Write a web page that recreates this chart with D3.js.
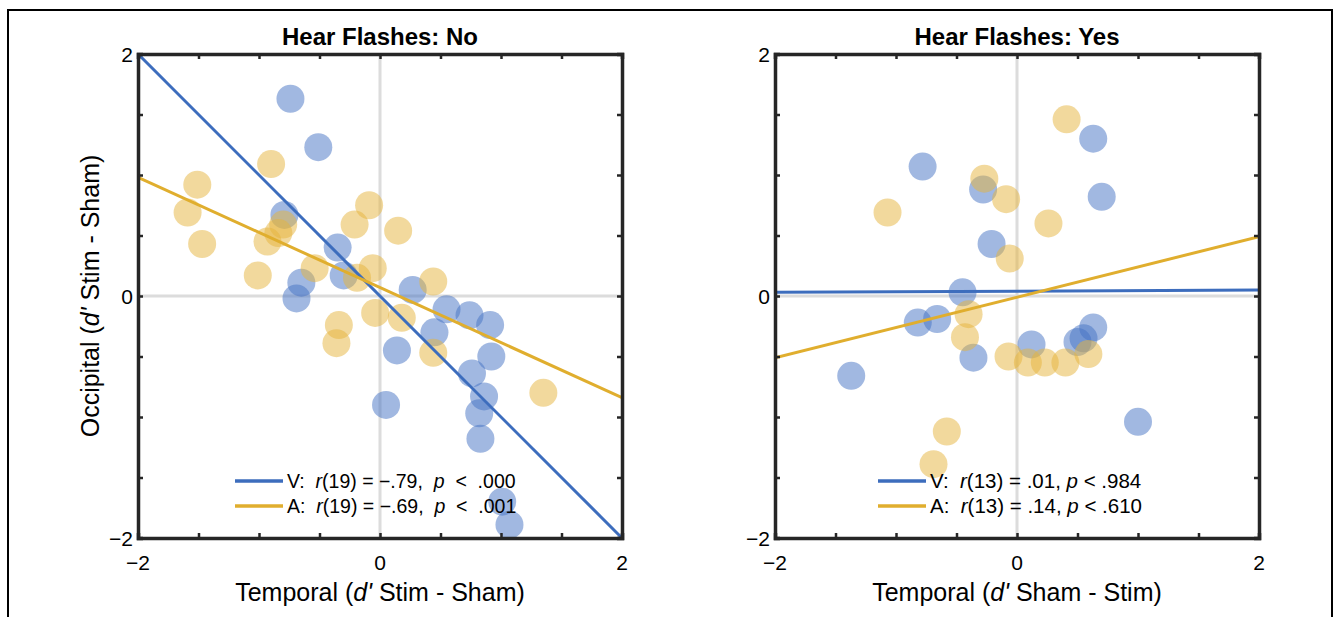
<!DOCTYPE html>
<html>
<head>
<meta charset="utf-8">
<title>Hear Flashes</title>
<script src="https://d3js.org/d3.v7.min.js"></script>
<style>
  body { margin: 0; background: #fff; }
  text { font-family: "Liberation Sans", Arial, Helvetica, sans-serif; fill: #000; }
</style>
</head>
<body>
<div id="chart"></div>
<script>
// ---- data ----
var titles = ["Hear Flashes: No", "Hear Flashes: Yes"];
var xLabels = ["Stim - Sham", "Sham - Stim"];
var tickValues = [-2, 0, 2];

// panel 1 (Hear Flashes: No)
var noVx = [-0.74, -0.51, -0.79, -0.35, -0.65, -0.69, -0.30, 0.27, 0.55, 0.74, 0.91, 0.45, 0.14, 0.92, 0.76, 0.86, 0.82, 0.83, 0.05, 1.01, 1.07];
var noVy = [1.63, 1.23, 0.67, 0.40, 0.11, -0.02, 0.17, 0.05, -0.11, -0.16, -0.24, -0.30, -0.45, -0.50, -0.64, -0.83, -0.97, -1.18, -0.90, -1.70, -1.89];
var noAx = [-1.51, -1.59, -1.47, -0.90, -0.80, -0.93, -1.01, -0.54, -0.21, -0.09, 0.15, -0.06, -0.19, 0.44, -0.04, 0.18, -0.34, -0.36, 0.44, 1.35, -0.84];
var noAy = [0.92, 0.69, 0.43, 1.09, 0.59, 0.45, 0.17, 0.23, 0.59, 0.75, 0.54, 0.23, 0.15, 0.12, -0.14, -0.18, -0.24, -0.39, -0.47, -0.80, 0.52];

// panel 2 (Hear Flashes: Yes)
var yesVx = [-0.78, -0.28, -0.21, 0.63, 0.70, -0.45, -0.82, -0.66, -0.36, -1.37, 0.12, 0.50, 0.63, 1.00, 0.55];
var yesVy = [1.07, 0.88, 0.43, 1.30, 0.82, 0.03, -0.22, -0.19, -0.51, -0.66, -0.40, -0.38, -0.26, -1.04, -0.35];
var yesAx = [0.41, -0.27, -0.09, -1.07, 0.26, -0.06, -0.40, -0.43, -0.07, 0.09, 0.23, 0.40, 0.59, -0.58, -0.69];
var yesAy = [1.46, 0.97, 0.80, 0.69, 0.60, 0.31, -0.15, -0.34, -0.50, -0.55, -0.55, -0.55, -0.48, -1.12, -1.39];

// fitted lines: [slope, intercept]
var noFitV = [-1.0, 0.0];
var noFitA = [-0.455, 0.07];
var yesFitV = [0.005, 0.04];
var yesFitA = [0.25, -0.01];

// legend entries
var noLegend = [["V", "19", "\u2212.79", ".000"], ["A", "19", "\u2212.69", ".001"]];
var yesLegend = [["V", "13", ".01", ".984"], ["A", "13", ".14", ".610"]];

(function () {
  var blue = "#3d6dbd", gold = "#e0ae2e";
  var blueDot = "#4472c4", goldDot = "#e5b43c";

  var W = 1335, H = 617;
  var svg = d3.select("#chart").append("svg").attr("width", W).attr("height", H);

  // outer frame
  svg.append("rect").attr("x", 8).attr("y", 10).attr("width", 1324).attr("height", 640)
    .attr("fill", "none").attr("stroke", "#000").attr("stroke-width", 2);

  function zip(xs, ys) { return xs.map(function (d, i) { return [d, ys[i]]; }); }

  var panels = [
    { left: 138, title: titles[0], xl: xLabels[0], V: zip(noVx, noVy), A: zip(noAx, noAy), fitV: noFitV, fitA: noFitA, leg: noLegend, legX: 97, legFont: 19.5, yLabel: true },
    { left: 775, title: titles[1], xl: xLabels[1], V: zip(yesVx, yesVy), A: zip(yesAx, yesAy), fitV: yesFitV, fitA: yesFitA, leg: yesLegend, legX: 103, legFont: 20.5, yLabel: false }
  ];

  var size = 484, plotTop = 54;

  panels.forEach(function (p, pi) {
    var g = svg.append("g").attr("transform", "translate(" + p.left + "," + plotTop + ")");
    var x = d3.scaleLinear().domain([-2, 2]).range([0, size]);
    var y = d3.scaleLinear().domain([-2, 2]).range([size, 0]);

    var clipId = "clip" + pi;
    g.append("clipPath").attr("id", clipId).append("rect").attr("width", size).attr("height", size);
    var inner = g.append("g").attr("clip-path", "url(#" + clipId + ")");

    // zero lines
    inner.append("line").attr("x1", x(0)).attr("x2", x(0)).attr("y1", 0).attr("y2", size)
      .attr("stroke", "#dcdcdc").attr("stroke-width", 3);
    inner.append("line").attr("x1", 0).attr("x2", size).attr("y1", y(0)).attr("y2", y(0))
      .attr("stroke", "#dcdcdc").attr("stroke-width", 3);

    // dots
    inner.selectAll("circle.v").data(p.V).enter().append("circle")
      .attr("class", "v").attr("cx", function (d) { return x(d[0]); }).attr("cy", function (d) { return y(d[1]); })
      .attr("r", 14).attr("fill", blueDot).attr("fill-opacity", 0.5);
    inner.selectAll("circle.a").data(p.A).enter().append("circle")
      .attr("class", "a").attr("cx", function (d) { return x(d[0]); }).attr("cy", function (d) { return y(d[1]); })
      .attr("r", 14).attr("fill", goldDot).attr("fill-opacity", 0.5);

    // fit lines
    var line = d3.line().x(function (d) { return x(d[0]); }).y(function (d) { return y(d[1]); });
    [[p.fitV, blue], [p.fitA, gold]].forEach(function (f) {
      var pts = [-2, 2].map(function (v) { return [v, f[0][0] * v + f[0][1]]; });
      inner.append("path").datum(pts).attr("d", line).attr("fill", "none")
        .attr("stroke", f[1]).attr("stroke-width", 3);
    });

    // axes box with inward minor ticks
    var minor = d3.range(-2, 2.01, 0.5);
    var axes = [
      d3.axisBottom(x).tickValues(minor).tickSize(-5).tickFormat(""),
      d3.axisTop(x).tickValues(minor).tickSize(-5).tickFormat(""),
      d3.axisLeft(y).tickValues(minor).tickSize(-5).tickFormat(""),
      d3.axisRight(y).tickValues(minor).tickSize(-5).tickFormat("")
    ];
    var trans = ["translate(0," + size + ")", "translate(0,0)", "translate(0,0)", "translate(" + size + ",0)"];
    axes.forEach(function (ax, i) {
      var a = g.append("g").attr("transform", trans[i]).call(ax);
      a.select(".domain").attr("stroke", "#262626").attr("stroke-width", 3.5);
      a.selectAll(".tick line").attr("stroke", "#262626").attr("stroke-width", 2.5);
    });

    // tick labels
    var fmt = function (d) { return d < 0 ? "\u2212" + Math.abs(d) : String(d); };
    g.selectAll("text.xt").data(tickValues).enter().append("text")
      .attr("x", function (d) { return x(d); }).attr("y", size + 32)
      .attr("text-anchor", "middle").attr("font-size", 21).text(fmt);
    g.selectAll("text.yt").data(tickValues).enter().append("text")
      .attr("x", -5).attr("y", function (d) { return y(d) + 8; })
      .attr("text-anchor", "end").attr("font-size", 21).text(fmt);

    // title
    g.append("text").attr("x", size / 2).attr("y", -9).attr("text-anchor", "middle")
      .attr("font-size", 24).attr("font-weight", "bold").text(p.title);

    // x label
    var xt = g.append("text").attr("x", size / 2).attr("y", size + 63).attr("text-anchor", "middle").attr("font-size", 25);
    xt.append("tspan").text("Temporal (");
    xt.append("tspan").attr("font-style", "italic").text("d'");
    xt.append("tspan").text(" " + p.xl + ")");

    if (p.yLabel) {
      var yt = g.append("text").attr("transform", "translate(-39," + (size / 2) + ") rotate(-90)")
        .attr("text-anchor", "middle").attr("font-size", 25);
      yt.append("tspan").text("Occipital (");
      yt.append("tspan").attr("font-style", "italic").text("d'");
      yt.append("tspan").text(" Stim - Sham)");
    }

    // legend
    p.leg.forEach(function (e, i) {
      var ly = 427 + i * 25;
      g.append("line").attr("x1", p.legX).attr("x2", p.legX + 48).attr("y1", ly).attr("y2", ly)
        .attr("stroke", i === 0 ? blue : gold).attr("stroke-width", 3.5);
      var t = g.append("text").attr("x", p.legX + 52).attr("y", ly + 7).attr("font-size", p.legFont)
        .attr("xml:space", "preserve");
      var sp = pi === 0 ? "  " : " ";
      t.append("tspan").text(e[0] + ":  ");
      t.append("tspan").attr("font-style", "italic").text("r");
      t.append("tspan").text("(" + e[1] + ") = " + e[2] + "," + sp);
      t.append("tspan").attr("font-style", "italic").text("p");
      t.append("tspan").text(sp + "<" + sp + e[3]);
    });
  });
})();
</script>
</body>
</html>
